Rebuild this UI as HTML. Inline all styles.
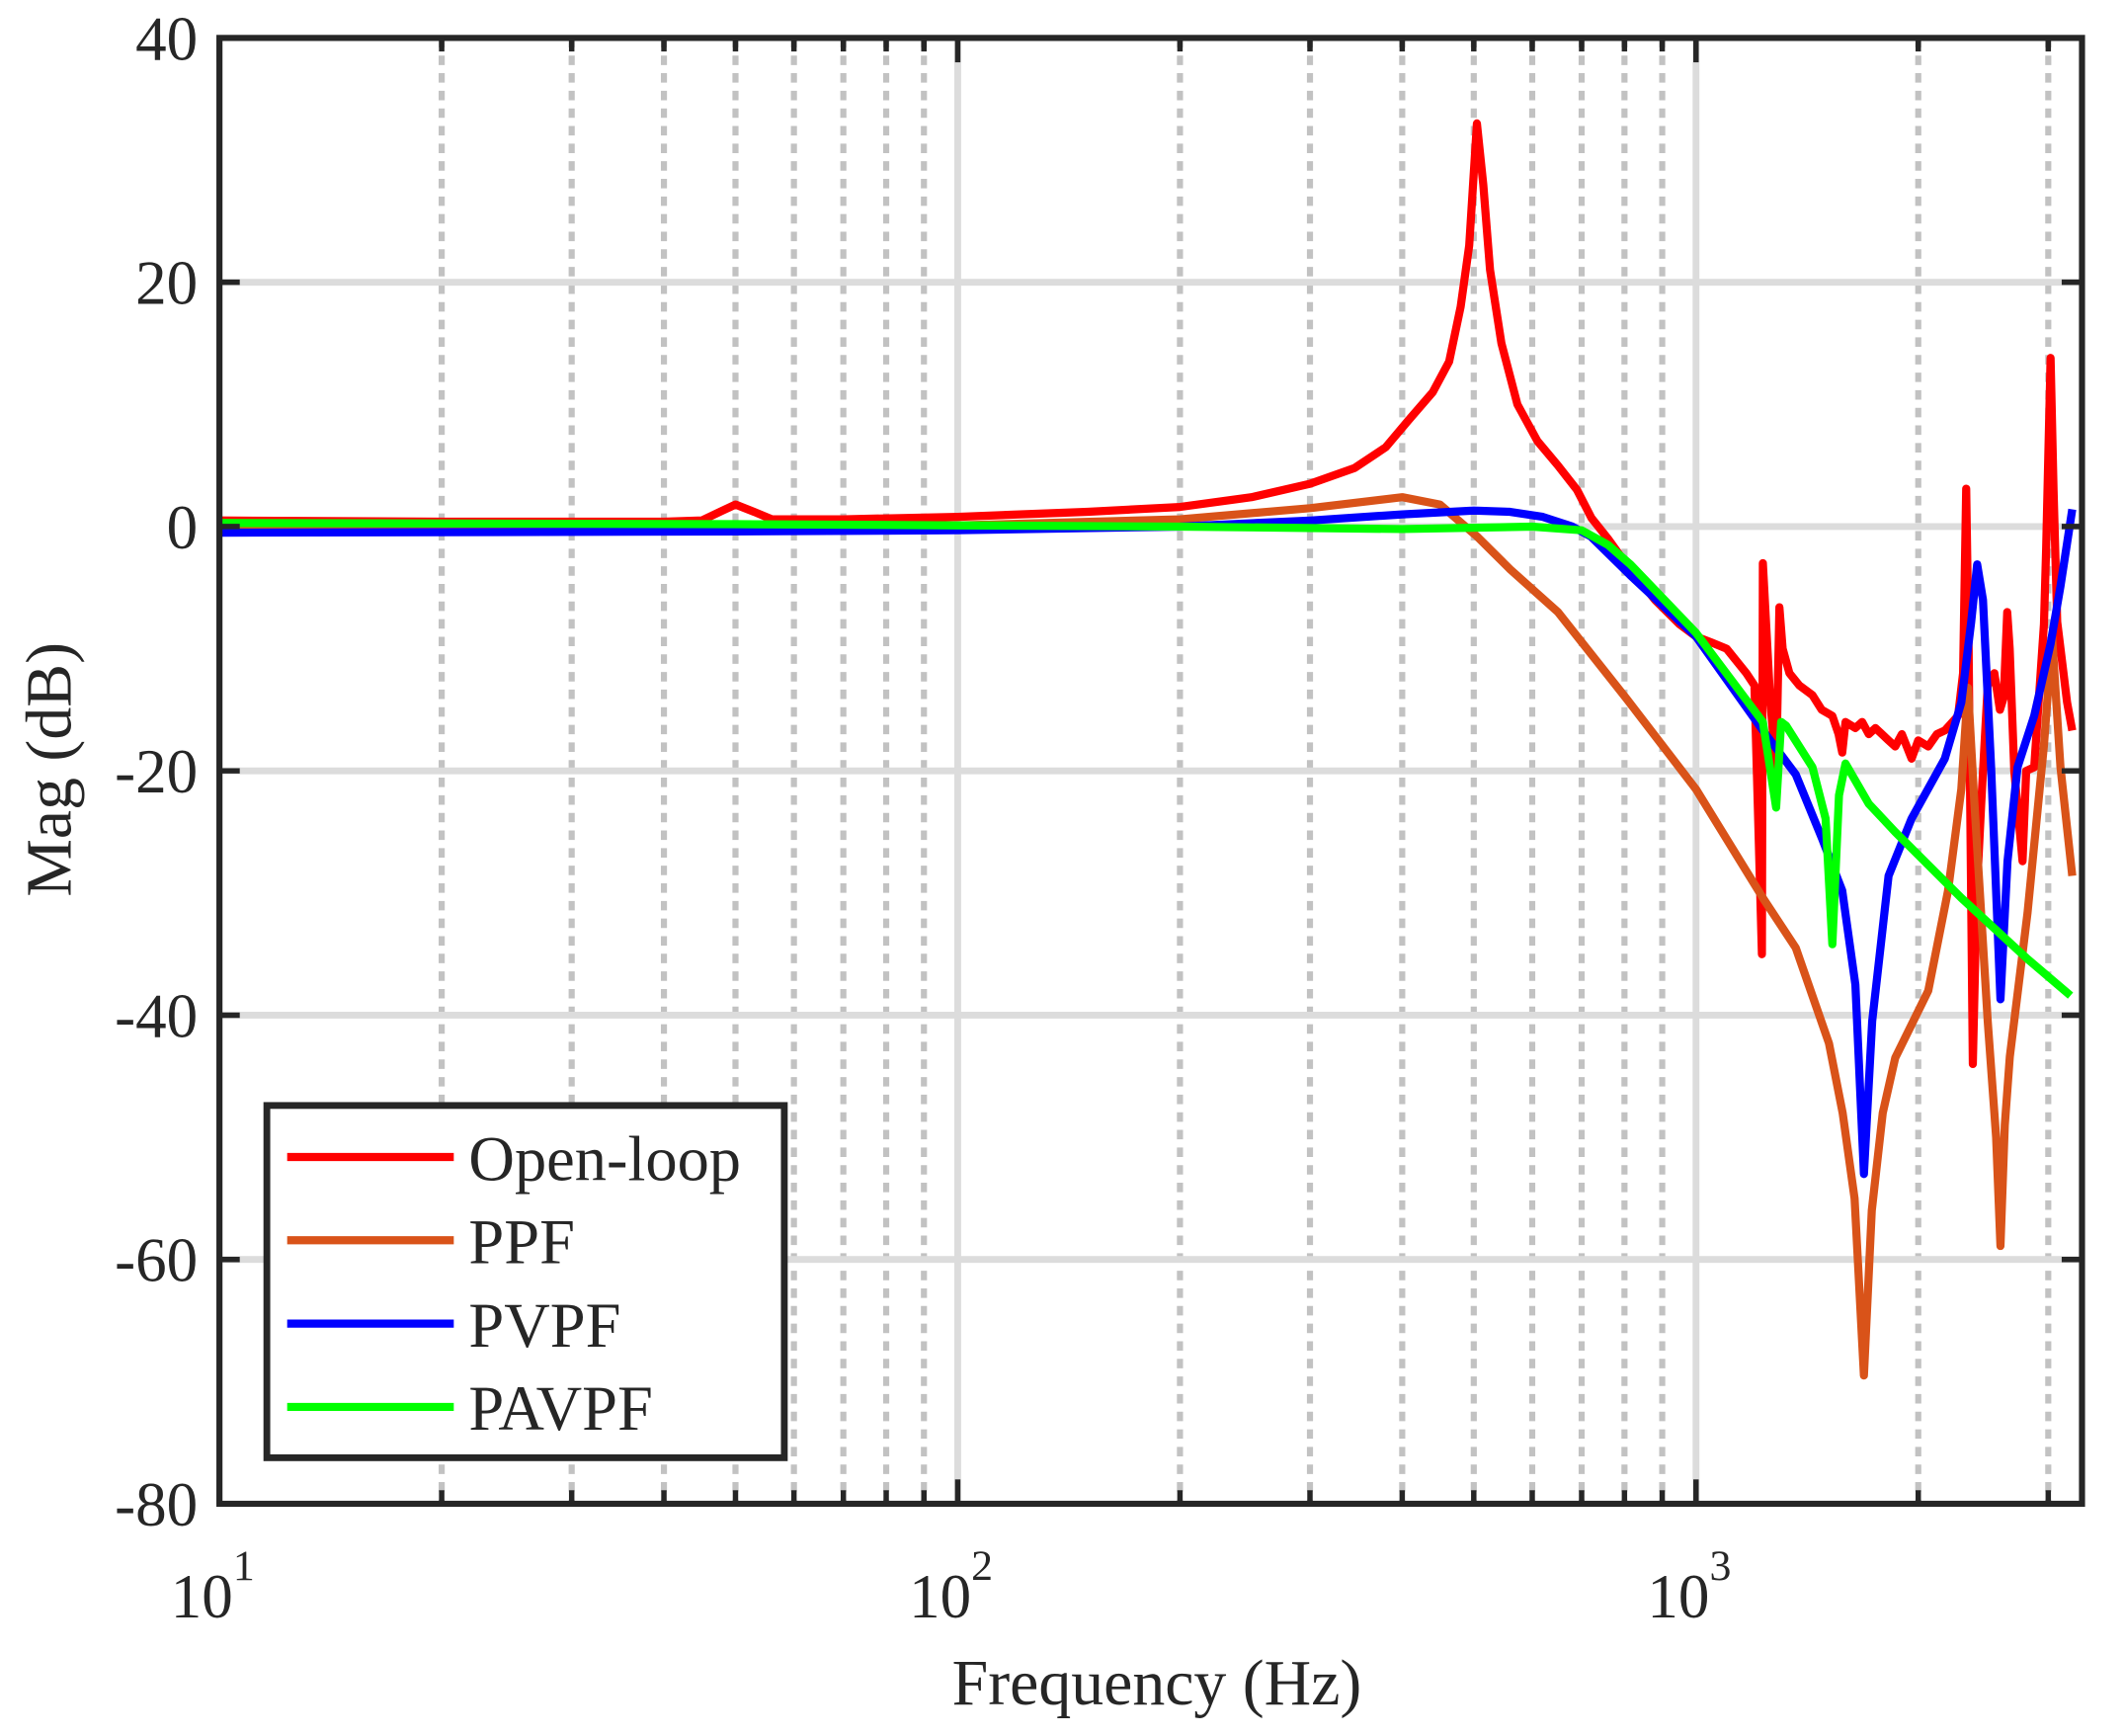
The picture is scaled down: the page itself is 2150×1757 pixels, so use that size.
<!DOCTYPE html>
<html><head><meta charset="utf-8">
<style>
html,body{margin:0;padding:0;background:#fff;}
svg{display:block;}
text{font-family:"Liberation Serif",serif;fill:#262626;}
</style></head>
<body>
<svg id="chart" width="2150" height="1757" viewBox="0 0 1568 1281.4" preserveAspectRatio="none" xmlns="http://www.w3.org/2000/svg">
<rect x="0" y="0" width="1568" height="1282" fill="#fff"/>
<g id="grid"></g>
<g id="series"></g>
<g id="axes"></g>
<g id="legend"></g>
</svg>
<script>
const yTicks = [40, 20, 0, -20, -40, -60, -80];
const xDecades = [10, 100, 1000];
const xDecadeExp = ["1", "2", "3"];
const minorFreqs = [20,30,40,50,60,70,80,90,200,300,400,500,600,700,800,900,2000,3000];
const seriesNames = ["Open-loop", "PPF", "PVPF", "PAVPF"];
const seriesColors = ["#ff0000", "#d95319", "#0000ff", "#00ff00"];

const openFreq = [10,20,40,45,48,50,53,56,70,100,150,200,250,300,345,380,408,440,463,480,493,505,515,526,545,573,610,650,690,722,760,803,880,950,1000,1050,1100,1170,1200,1228,1232,1260,1284,1297,1310,1338,1380,1438,1480,1530,1560,1578,1594,1644,1679,1714,1750,1823,1861,1900,1959,2000,2063,2120,2173,2264,2300,2323,2340,2371,2400,2434,2484,2536,2580,2611,2640,2660,2698,2769,2800,2871,2960,2980,3022,3050,3085,3182,3233];
const openMag = [0.5,0.4,0.4,0.5,1.3,1.8,1.2,0.6,0.6,0.8,1.2,1.6,2.4,3.5,4.8,6.5,8.7,11,13.5,18,23,33,28,21,15,10,7,5,3,0.7,-1,-3,-6,-8,-9,-9.5,-10,-12,-13,-35,-3,-14,-20,-6.6,-10,-12,-13,-13.8,-15,-15.5,-17,-18.5,-16,-16.5,-16,-17,-16.5,-17.5,-18,-17,-19,-17.5,-18,-17,-16.7,-15.5,-12,3.1,-10,-44,-30,-22.7,-13,-12,-15,-14,-7,-10,-20,-27.4,-20,-19.7,-8,-1.9,13.8,3,-7.8,-14.4,-16.7];

const ppfFreq = [10,50,100,200,300,400,450,505,560,650,803,1000,1232,1365,1514,1580,1640,1688,1730,1790,1861,2063,2195,2287,2335,2383,2484,2550,2584,2620,2661,2812,2960,3036,3117,3233];
const ppfMag = [0,0,0.1,0.6,1.5,2.4,1.8,-0.8,-3.5,-7,-14,-21.5,-30.4,-34.5,-42.3,-48,-55,-69.5,-56,-48,-43.5,-38,-29.8,-21.5,-13.2,-22.7,-40.5,-50,-58.9,-49,-43.4,-31.6,-17.9,-9,-19.7,-28.6];

const pvpfFreq = [10,50,100,200,300,400,500,560,620,680,720,815,1000,1232,1365,1483,1578,1644,1688,1732,1823,1959,2173,2287,2359,2403,2447,2510,2584,2642,2726,2871,3022,3117,3233];
const pvpfMag = [-0.5,-0.4,-0.3,0,0.5,1,1.3,1.2,0.8,0,-0.8,-4,-9,-16.7,-20.3,-25.6,-29.8,-37.5,-53,-40.5,-28.6,-23.9,-19,-14.4,-7.8,-3.1,-6,-19.7,-38.7,-27.4,-19.7,-15.5,-9.6,-4.9,1.4];

const pavpfFreq = [10,50,100,200,400,600,700,760,815,1000,1232,1284,1304,1324,1438,1498,1530,1562,1594,1714,1861,2287,2812,3215];
const pavpfMag = [0.3,0.2,0.1,0,-0.2,0,-0.3,-1.5,-3.1,-8.7,-16,-23,-16,-16.3,-19.7,-23.9,-34.2,-22,-19.4,-22.7,-25,-30.4,-35.4,-38.4];

const L = 162, R = 1537, T = 28, B = 1110;
const xMinLog = 1, xMaxLog = Math.log10(3333);
const yMin = -80, yMax = 40;
function xs(f){ return L + (Math.log10(f) - xMinLog) / (xMaxLog - xMinLog) * (R - L); }
function ys(v){ return T + (yMax - v) / (yMax - yMin) * (B - T); }
const NS = "http://www.w3.org/2000/svg";
function mk(tag, parent){ const e = document.createElementNS(NS, tag); parent.appendChild(e); return e; }

const grid = document.getElementById("grid");
const axes = document.getElementById("axes");
const ser = document.getElementById("series");
const leg = document.getElementById("legend");

minorFreqs.forEach(f => {
  const l = mk("line", grid);
  
  
  l.setAttribute("x1", xs(f)); l.setAttribute("x2", xs(f));
  l.setAttribute("y1", T); l.setAttribute("y2", B);
  l.setAttribute("stroke", "#c2c2c2"); l.setAttribute("stroke-width", "4.5");
  l.setAttribute("stroke-dasharray", "7 6");
});
xDecades.slice(1).forEach(f => {
  const l = mk("line", grid);
  
  
  l.setAttribute("x1", xs(f)); l.setAttribute("x2", xs(f));
  l.setAttribute("y1", T); l.setAttribute("y2", B);
  l.setAttribute("stroke", "#dcdcdc"); l.setAttribute("stroke-width", "5");
});
yTicks.forEach(v => {
  if (v === yMax || v === yMin) return;
  const l = mk("line", grid);
  
  
  l.setAttribute("x1", L); l.setAttribute("x2", R);
  l.setAttribute("y1", ys(v)); l.setAttribute("y2", ys(v));
  l.setAttribute("stroke", "#dcdcdc"); l.setAttribute("stroke-width", "5");
});

const allF = [openFreq, ppfFreq, pvpfFreq, pavpfFreq];
const allM = [openMag, ppfMag, pvpfMag, pavpfMag];
const serNames = ["open-loop-line", "ppf-line", "pvpf-line", "pavpf-line"];
allF.forEach((fr, i) => {
  const p = mk("polyline", ser);
  
  
  p.setAttribute("points", fr.map((f, j) => xs(f).toFixed(1) + "," + ys(allM[i][j]).toFixed(1)).join(" "));
  p.setAttribute("fill", "none");
  p.setAttribute("stroke", seriesColors[i]);
  p.setAttribute("stroke-width", "6");
  p.setAttribute("stroke-linejoin", "round");
});

const box = mk("rect", axes);


box.setAttribute("x", L); box.setAttribute("y", T);
box.setAttribute("width", R - L); box.setAttribute("height", B - T);
box.setAttribute("fill", "none"); box.setAttribute("stroke", "#262626"); box.setAttribute("stroke-width", "4.5");

function tick(x1,y1,x2,y2,name){
  const l = mk("line", axes);
  
  
  l.setAttribute("x1", x1); l.setAttribute("y1", y1); l.setAttribute("x2", x2); l.setAttribute("y2", y2);
  l.setAttribute("stroke", "#262626"); l.setAttribute("stroke-width", "4");
}
minorFreqs.forEach(f => { tick(xs(f), B, xs(f), B - 10, 'x-minor-tick'); tick(xs(f), T, xs(f), T + 10, 'x-minor-tick'); });
xDecades.forEach(f => { tick(xs(f), B, xs(f), B - 18, 'x-major-tick'); tick(xs(f), T, xs(f), T + 18, 'x-major-tick'); });
yTicks.forEach(v => { tick(L, ys(v), L + 15, ys(v), 'y-tick'); tick(R, ys(v), R - 15, ys(v), 'y-tick'); });

yTicks.forEach(v => {
  const t = mk("text", axes);
  
  
  t.setAttribute("x", 146); t.setAttribute("y", ys(v) + 16);
  t.setAttribute("text-anchor", "end"); t.setAttribute("font-size", "46");
  t.textContent = String(v);
});
xDecades.forEach((f, i) => {
  const t = mk("text", axes);
  
  
  t.setAttribute("x", xs(f) - 36); t.setAttribute("y", 1194);
  t.setAttribute("font-size", "46");
  t.textContent = "10";
  const s = mk("tspan", t);
  s.setAttribute("dy", "-28"); s.setAttribute("font-size", "32");
  s.textContent = xDecadeExp[i];
});
</script>
<script>
(function(){
  const NS = "http://www.w3.org/2000/svg";
  const svg = document.getElementById("chart");
  const xt = document.createElementNS(NS, "text");
  
  
  xt.setAttribute("x", 854); xt.setAttribute("y", 1258); xt.setAttribute("text-anchor", "middle"); xt.setAttribute("font-size", "48");
  xt.textContent = "Frequency (Hz)";
  svg.appendChild(xt);
  const yt = document.createElementNS(NS, "text");
  
  
  yt.setAttribute("x", 0); yt.setAttribute("y", 0); yt.setAttribute("text-anchor", "middle"); yt.setAttribute("font-size", "48");
  yt.setAttribute("transform", "translate(52,568) rotate(-90)");
  yt.textContent = "Mag (dB)";
  svg.appendChild(yt);

  const leg = document.getElementById("legend");
  const r = document.createElementNS(NS, "rect");
  
  
  r.setAttribute("x", 197); r.setAttribute("y", 816); r.setAttribute("width", 382); r.setAttribute("height", 260);
  r.setAttribute("fill", "#fff"); r.setAttribute("stroke", "#262626"); r.setAttribute("stroke-width", "5");
  leg.appendChild(r);
  seriesNames.forEach((n, i) => {
    const y = 854 + i * 61.5;
    const l = document.createElementNS(NS, "line");
    
    
    l.setAttribute("x1", 212); l.setAttribute("x2", 335); l.setAttribute("y1", y); l.setAttribute("y2", y);
    l.setAttribute("stroke", seriesColors[i]); l.setAttribute("stroke-width", "6");
    leg.appendChild(l);
    const t = document.createElementNS(NS, "text");
    
    
    t.setAttribute("x", 346); t.setAttribute("y", y + 17); t.setAttribute("font-size", "47"); t.setAttribute("fill", "#000");
    t.textContent = n;
    leg.appendChild(t);
  });
})();
</script>
</body></html>
